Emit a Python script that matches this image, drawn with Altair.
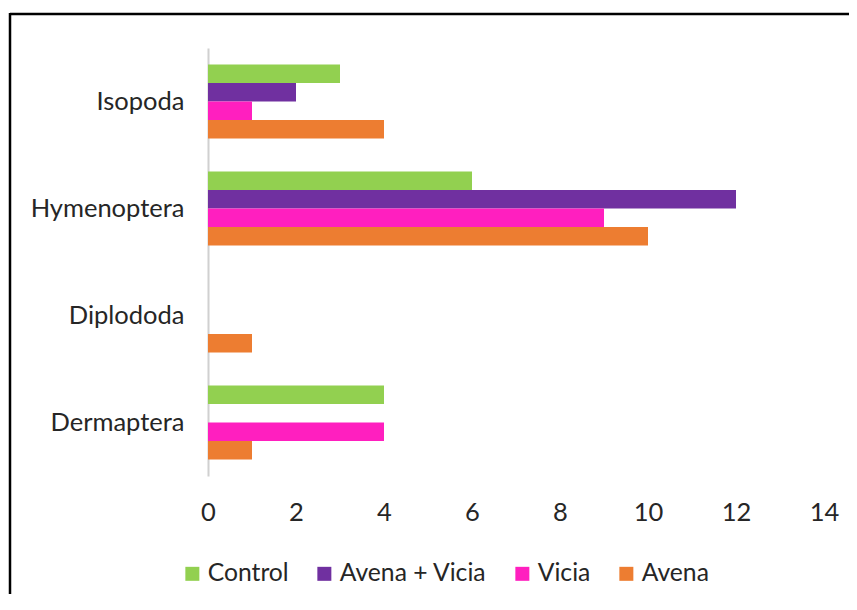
import altair as alt
import pandas as pd

categories = ["Isopoda", "Hymenoptera", "Diplododa", "Dermaptera"]
series = ["Control", "Avena + Vicia", "Vicia", "Avena"]
colors = ["#92D050", "#7030A0", "#FF1FBF", "#ED7D31"]
control = [3, 6, 0, 4]
avena_vicia = [2, 12, 0, 0]
vicia = [1, 9, 0, 4]
avena = [4, 10, 1, 1]
x_ticks = [0, 2, 4, 6, 8, 10, 12, 14]

rows = []
for s, vals in zip(series, [control, avena_vicia, vicia, avena]):
    for c, v in zip(categories, vals):
        rows.append({"category": c, "series": s, "value": v})
df = pd.DataFrame(rows)

FONT = "Lato"
FS = 25.5
LFS = 24.7

bars = alt.Chart(df).mark_bar().encode(
    y=alt.Y("category:N", sort=categories,
            scale=alt.Scale(paddingInner=0.31, paddingOuter=0.155),
            axis=alt.Axis(title=None, ticks=False, domain=True, domainColor="#D0D0D0",
                          domainWidth=2, labelPadding=24, labelFontSize=FS,
                          labelFont=FONT, labelColor="#262626")),
    yOffset=alt.YOffset("series:N", sort=series,
                        scale=alt.Scale(paddingInner=0, paddingOuter=0)),
    x=alt.X("value:Q", scale=alt.Scale(domain=[0, 14]),
            axis=alt.Axis(title=None, values=x_ticks, grid=False, ticks=False, domain=False,
                          labelFlush=False, labelPadding=24, labelFontSize=FS,
                          labelFont=FONT, labelColor="#262626")),
    color=alt.Color("series:N", sort=series,
                    scale=alt.Scale(domain=series, range=colors),
                    legend=alt.Legend(title=None, orient="none", legendX=-28, legendY=513,
                                      direction="horizontal", symbolType="square",
                                      symbolSize=196, symbolStrokeWidth=0,
                                      labelFontSize=LFS, labelFont=FONT,
                                      labelColor="#262626", columnPadding=23,
                                      labelOffset=3)),
)

frame = pd.DataFrame([{"k": 1}])
top_line = alt.Chart(frame).mark_rule(color="black", strokeWidth=2.5).encode(
    x=alt.value(-198), x2=alt.value(700), y=alt.value(-34))
left_line = alt.Chart(frame).mark_rule(color="black", strokeWidth=2.5).encode(
    x=alt.value(-198), y=alt.value(-35), y2=alt.value(620))

chart = alt.layer(bars, top_line, left_line).properties(
    width=616, height=428,
    autosize=alt.AutoSizeParams(type="none"),
    padding={"left": 200, "top": 40, "right": 25, "bottom": 118},
    background="white",
).configure_view(stroke=None)

chart.save("out.html", embed_options={"renderer": "svg", "actions": False})
